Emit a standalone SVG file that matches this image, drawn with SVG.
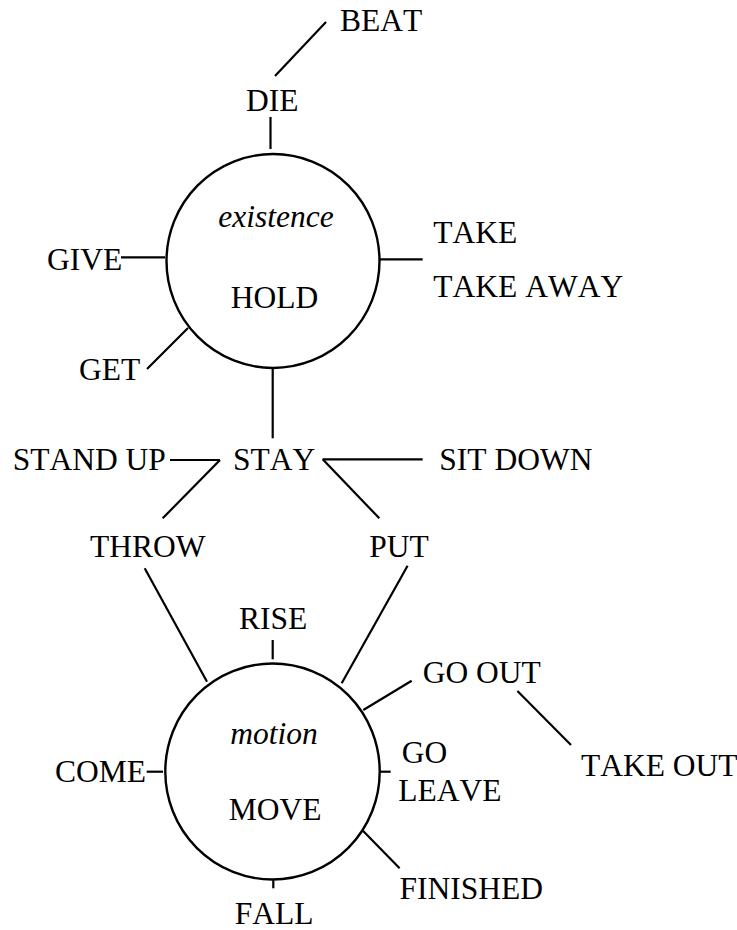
<svg xmlns="http://www.w3.org/2000/svg" width="737" height="930" viewBox="0 0 737 930">
<style>
text{font-family:'Liberation Serif','Times New Roman',Times,'DejaVu Serif',serif;font-size:31.5px;fill:#000;font-kerning:none}
.it{font-style:italic}
.c{fill:none;stroke:#000;stroke-width:2.4}
#connectors line{stroke:#000;stroke-width:2.2;stroke-linecap:butt}
</style>
<rect width="737" height="930" fill="#fff"/>
<g id="connectors">
<line x1="326" y1="22" x2="275" y2="76"/>
<line x1="270.5" y1="117" x2="270.5" y2="149"/>
<line x1="121" y1="257.3" x2="165" y2="257.3"/>
<line x1="188" y1="328" x2="147" y2="369"/>
<line x1="380" y1="259.3" x2="422.7" y2="259.3"/>
<line x1="272.7" y1="368" x2="272.7" y2="438.3"/>
<line x1="170" y1="460" x2="220" y2="460"/>
<line x1="220" y1="460" x2="162.7" y2="518.3"/>
<line x1="322.7" y1="459.3" x2="422.7" y2="459.3"/>
<line x1="322.7" y1="459.3" x2="379.3" y2="518.3"/>
<line x1="144.7" y1="568.3" x2="207" y2="681.7"/>
<line x1="407.6" y1="565.7" x2="341.7" y2="683.3"/>
<line x1="272.7" y1="640" x2="272.7" y2="659.3"/>
<line x1="363.3" y1="710" x2="411.7" y2="680.7"/>
<line x1="517.4" y1="691" x2="571" y2="745"/>
<line x1="146.7" y1="771.7" x2="163" y2="771.7"/>
<line x1="380" y1="771.7" x2="390.7" y2="771.7"/>
<line x1="362.9" y1="830.7" x2="399.6" y2="868.3"/>
<line x1="273.3" y1="879" x2="273.3" y2="888.3"/>
</g>
<g id="existence">
<ellipse class="c" cx="273" cy="261" rx="106.5" ry="107"/>
<text class="it" x="276" y="226.7" text-anchor="middle">existence</text>
<text x="274.5" y="307.7" text-anchor="middle">HOLD</text>
</g>
<g id="motion">
<ellipse class="c" cx="272.5" cy="771.5" rx="107.2" ry="108"/>
<text class="it" x="274" y="744" text-anchor="middle">motion</text>
<text x="275" y="820" text-anchor="middle">MOVE</text>
</g>
<g id="beat"><text x="340" y="31">BEAT</text></g>
<g id="die"><text x="246" y="111">DIE</text></g>
<g id="give"><text x="47" y="270">GIVE</text></g>
<g id="get"><text x="79" y="380">GET</text></g>
<g id="take"><text x="433.3" y="243.3">TAKE</text></g>
<g id="take-away"><text x="433.3" y="296.7">TAKE AWAY</text></g>
<g id="stand-up"><text x="12.7" y="470">STAND UP</text></g>
<g id="stay"><text x="233" y="470">STAY</text></g>
<g id="sit-down"><text x="439.3" y="470">SIT DOWN</text></g>
<g id="throw"><text x="90" y="557.3">THROW</text></g>
<g id="put"><text x="369.3" y="557.3">PUT</text></g>
<g id="rise"><text x="239" y="629.3">RISE</text></g>
<g id="go-out"><text x="422.7" y="683.3">GO OUT</text></g>
<g id="take-out"><text x="581" y="776">TAKE OUT</text></g>
<g id="come"><text x="55" y="781.7">COME</text></g>
<g id="go"><text x="401.7" y="763.3">GO</text></g>
<g id="leave"><text x="398.3" y="800.7">LEAVE</text></g>
<g id="finished"><text x="399.6" y="899.3">FINISHED</text></g>
<g id="fall"><text x="234.7" y="924">FALL</text></g>
</svg>
